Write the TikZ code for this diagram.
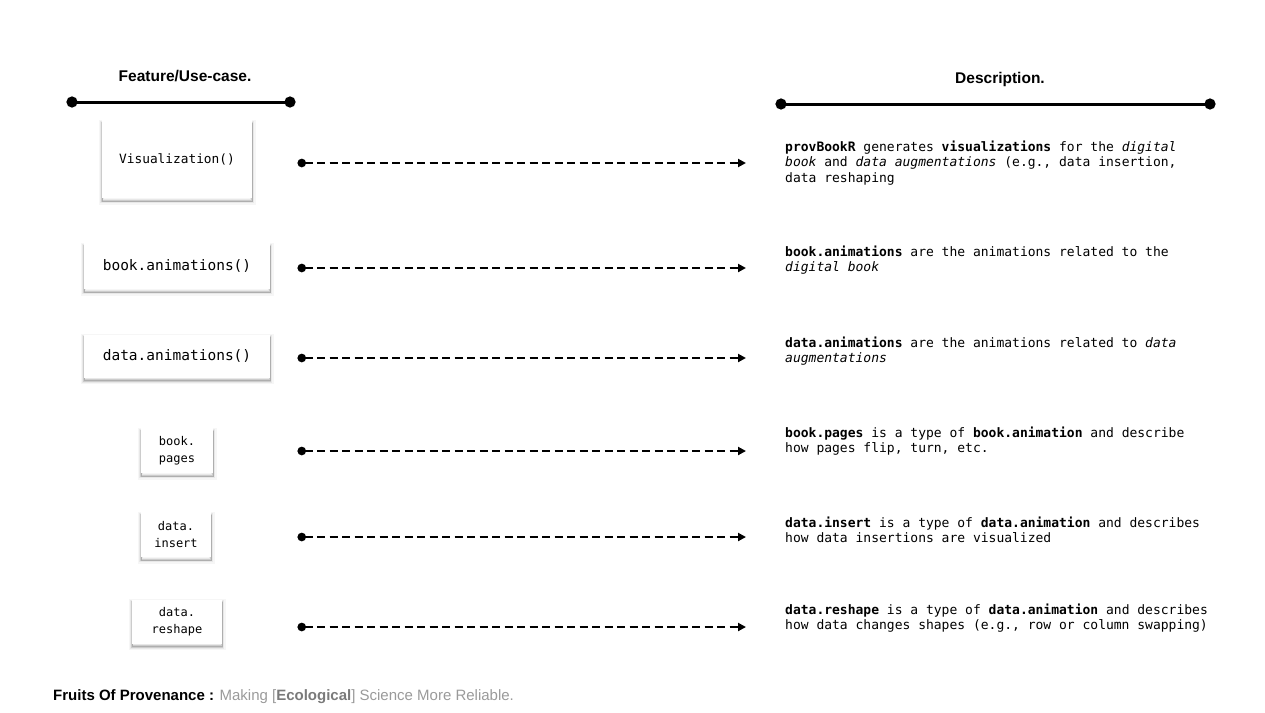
\documentclass[tikz,border=0pt]{standalone}
\usepackage{fontspec}
\setmainfont{Liberation Sans}
\setmonofont{DejaVu Sans Mono}[BoldFont={DejaVu Sans Mono Bold},ItalicFont={DejaVu Sans Mono Oblique},BoldItalicFont={DejaVu Sans Mono Bold Oblique}]
\usetikzlibrary{arrows.meta}
\definecolor{footgray}{HTML}{9A9A9A}
\definecolor{footdark}{HTML}{7A7A7A}
\begin{document}
\begin{tikzpicture}[x=1pt,y=-1pt,
  feat/.style={fill=white,
     preaction={draw=black, draw opacity=0.035, line width=7pt, transform canvas={yshift=-3pt}},
     preaction={draw=black, draw opacity=0.06, line width=4.5pt, transform canvas={yshift=-3pt}},
     preaction={draw=black, draw opacity=0.12, line width=2.5pt, transform canvas={yshift=-3pt}},
     preaction={draw=black, draw opacity=0.15, line width=1pt, transform canvas={yshift=-3pt}},
     inner sep=0pt, align=center},
  desc/.style={anchor=north west, inner sep=0pt, align=left, font=\ttfamily\fontsize{13}{15.5}\selectfont},
  hdrtext/.style={font=\bfseries\fontsize{15.5}{17}\selectfont, inner sep=0pt},
  hdrline/.style={line width=3pt, {Circle[length=11pt]}-{Circle[length=11pt]}},
  conn/.style={line width=2.6pt, dash pattern=on 8pt off 4.5pt, {Circle[length=8.5pt]}-{Triangle[length=8pt,width=8pt]}}
]
\useasboundingbox (0,0) rectangle (1265,712);

% headers
\node[hdrtext] (hfeat) at (185,76) {Feature/Use-case.};
\node[hdrtext] (hdesc) at (1000,79) {Description.};
\coordinate (hl1) at (66.5,102);
\coordinate (hl2) at (295.5,102);
\coordinate (hr1) at (775.5,104);
\coordinate (hr2) at (1215.5,104);
\draw[hdrline] (hl1) -- (hl2);
\draw[hdrline] (hr1) -- (hr2);

% feature boxes
\node[feat, minimum width=150pt, minimum height=78pt, font=\ttfamily\fontsize{12.8}{15}\selectfont] (f1) at (177,159) {Visualization()};
\node[feat, minimum width=186pt, minimum height=46pt, font=\ttfamily\fontsize{14.5}{17}\selectfont] (f2) at (177,266) {book.animations()};
\node[feat, minimum width=186pt, minimum height=43pt, font=\ttfamily\fontsize{14.5}{17}\selectfont] (f3) at (177,356) {data.animations()};
\node[feat, minimum width=72pt, minimum height=45pt, font=\ttfamily\fontsize{12}{17}\selectfont] (f4) at (177,450.5) {book.\\pages};
\node[feat, minimum width=70pt, minimum height=45pt, font=\ttfamily\fontsize{12}{17}\selectfont] (f5) at (176,534.5) {data.\\insert};
\node[feat, minimum width=90pt, minimum height=44pt, font=\ttfamily\fontsize{12}{17}\selectfont] (f6) at (177,621.5) {data.\\reshape};

% descriptions
\node[desc] (d1) at (785,140.5) {\textbf{provBookR} generates \textbf{visualizations} for the \textit{digital}\\\textit{book} and \textit{data augmentations} (e.g., data insertion,\\data reshaping};
\node[desc] (d2) at (785,245.5) {\textbf{book.animations} are the animations related to the\\\textit{digital book}};
\node[desc] (d3) at (785,336.5) {\textbf{data.animations} are the animations related to \textit{data}\\\textit{augmentations}};
\node[desc] (d4) at (785,426.5) {\textbf{book.pages} is a type of \textbf{book.animation} and describe\\how pages flip, turn, etc.};
\node[desc] (d5) at (785,516.5) {\textbf{data.insert} is a type of \textbf{data.animation} and describes\\how data insertions are visualized};
\node[desc] (d6) at (785,603.5) {\textbf{data.reshape} is a type of \textbf{data.animation} and describes\\how data changes shapes (e.g., row or column swapping)};

% connectors
\foreach \i/\yy in {1/163,2/268,3/358,4/451,5/537,6/627}{
  \coordinate (s\i) at (297.5,\yy);
  \coordinate (e\i) at (746,\yy);
  \draw[conn] (s\i) -- (e\i);
}

% footer
\node[anchor=west, inner sep=0pt, font=\fontsize{15}{17}\selectfont] (foot) at (53,697)
  {\textbf{Fruits Of Provenance :} \textcolor{footgray}{Making [\textbf{\textcolor{footdark}{Ecological}}] Science More Reliable.}};
\end{tikzpicture}
\end{document}
